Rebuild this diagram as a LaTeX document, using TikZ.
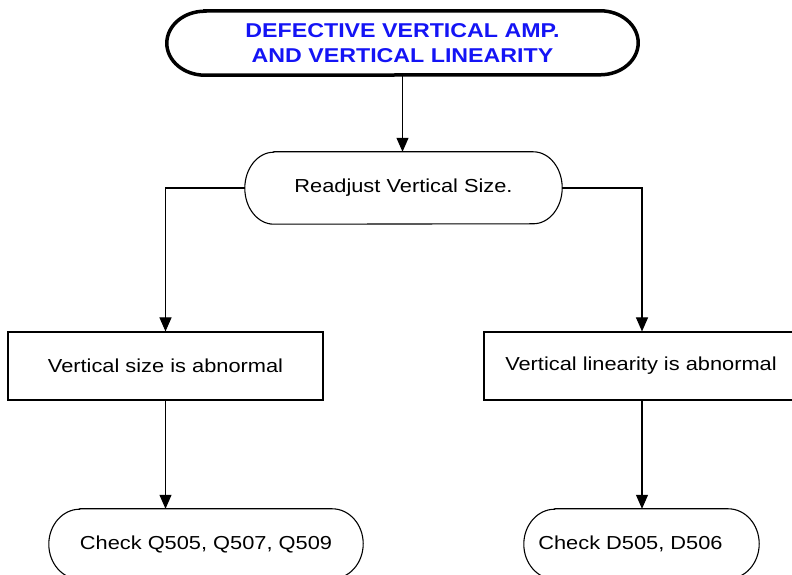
\documentclass[tikz,border=0pt]{standalone}
\usepackage{fontspec}
\newfontfamily\arialx[FakeStretch=1.16]{Liberation Sans}
\usetikzlibrary{arrows.meta}
\definecolor{titleblue}{RGB}{20,20,245}
\newcommand\drawterm[4]{%
  \draw[line width=#4] ([xshift=#2]#1.north west) -- ([xshift=-#2]#1.north east)
    arc[start angle=90,end angle=-90,x radius=#2,y radius=#3]
    -- ([xshift=#2]#1.south west)
    arc[start angle=270,end angle=90,x radius=#2,y radius=#3] -- cycle;}
\tikzset{
  base/.style={rectangle,inner sep=0pt,font=\arialx\fontsize{18.8}{22}\selectfont},
  term/.style={base,draw=none},
  boxnode/.style={base,draw=black,line width=1.1pt},
  arr/.style={line width=1.1pt,-{Triangle[length=14pt,width=12pt]}},
  link/.style={line width=1.1pt}
}
\begin{document}
\begin{tikzpicture}[x=1pt,y=1pt]
\useasboundingbox (0,0) rectangle (792,575);
\clip (0,0) rectangle (792,575);
% nodes
\node[term,minimum width=471pt,minimum height=64pt,align=center,
      font=\arialx\bfseries\fontsize{20}{25}\selectfont,text=titleblue]
      (top) at (402.5,532) {DEFECTIVE VERTICAL AMP.\\AND VERTICAL LINEARITY};
\drawterm{top}{38pt}{32pt}{3.5pt}
\node[term,minimum width=317pt,minimum height=72pt] (r) at (403.5,387) {Readjust Vertical Size.};
\drawterm{r}{29pt}{36pt}{1.1pt}
\node[boxnode,minimum width=315pt,minimum height=68pt] (b1) at (165.5,209) {Vertical size is abnormal};
\node[boxnode,minimum width=314pt,minimum height=68pt] (b2) at (641,209) {Vertical linearity is abnormal};
\node[term,minimum width=314pt,minimum height=70pt] (c1) at (206,31) {Check Q505, Q507, Q509};
\drawterm{c1}{31pt}{35pt}{1.1pt}
\node[term,minimum width=235pt,minimum height=70pt] (c2) at (641.5,31) {Check D505, D506\hspace*{22pt}};
\drawterm{c2}{31pt}{35pt}{1.1pt}
% connectors
\draw[arr] (top.south) -- (top.south |- r.north);
\draw[arr] (r.west) -| (b1.north);
\draw[arr] (r.east) -| ([xshift=1pt]b2.north);
\draw[arr] (b1.south) -- (b1.south |- c1.north);
\draw[arr] ([xshift=1pt]b2.south) -- ([xshift=1pt]b2.south |- c2.north);
\end{tikzpicture}
\end{document}
